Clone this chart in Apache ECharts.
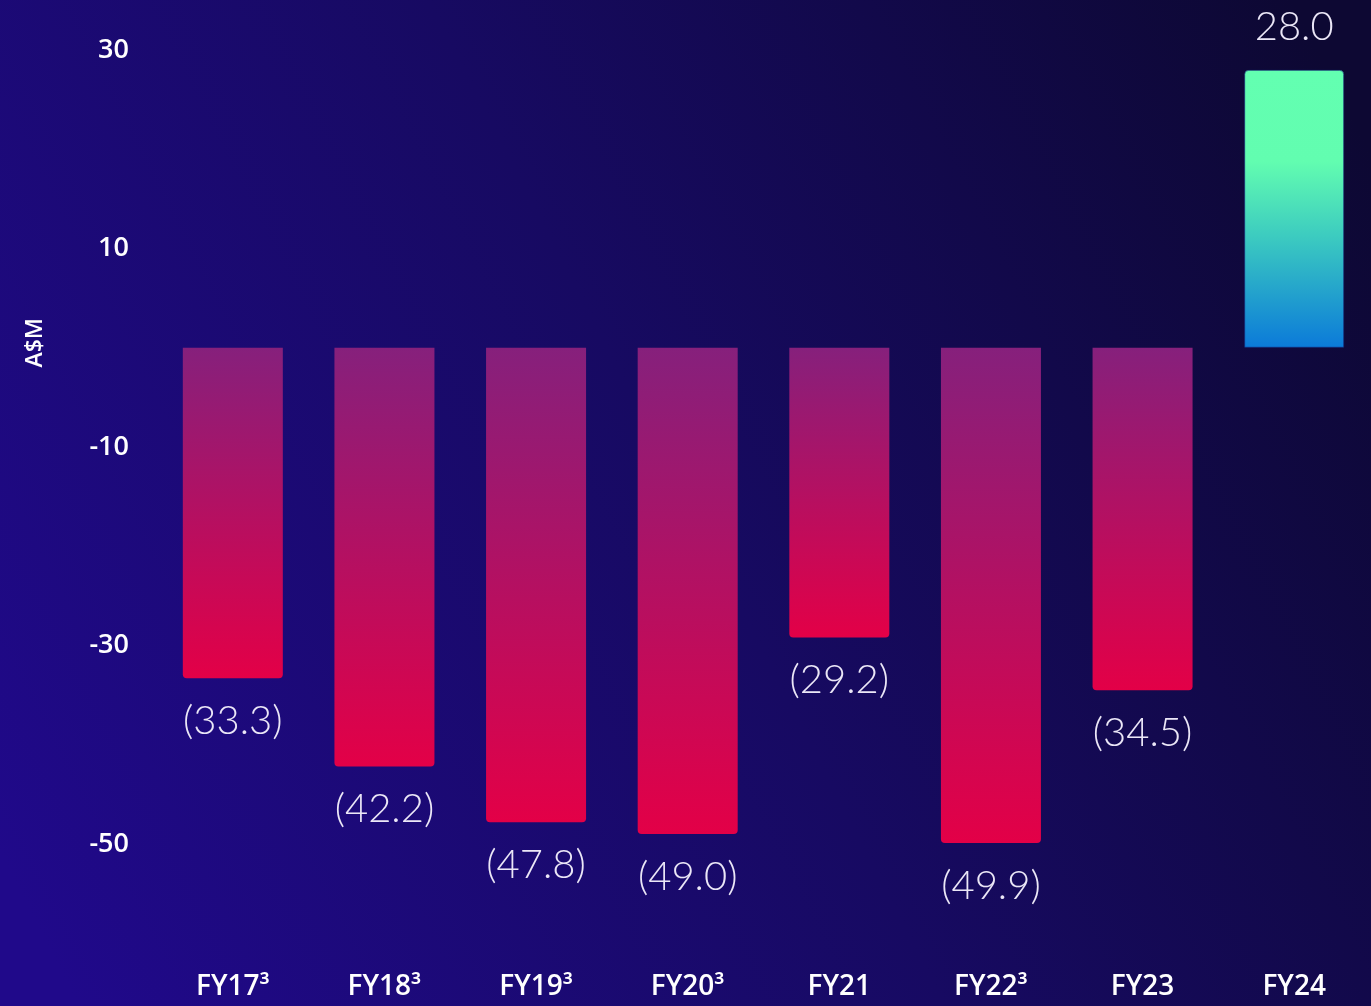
<!DOCTYPE html>
<html>
<head>
<meta charset="utf-8">
<script src="https://cdn.jsdelivr.net/npm/echarts@6/dist/echarts.min.js"></script>
<style>
  html, body { margin: 0; padding: 0; width: 100%; height: 100%; }
  #chart { width: 1371px; height: 1006px; }
</style>
</head>
<body>
<div id="chart"></div>
<script>
// Annual result, A$M (negative values shown in brackets)
const categories = ['FY17³', 'FY18³', 'FY19³', 'FY20³', 'FY21', 'FY22³', 'FY23', 'FY24'];
const values = [-33.3, -42.2, -47.8, -49.0, -29.2, -49.9, -34.5, 28.0];
const yTickLabels = [30, 10, -10, -30, -50];
const unitLabel = 'A$M';

const boldFont = 'Open Sans, Noto Sans, sans-serif';

const lossFill = new echarts.graphic.LinearGradient(0, 0, 0, 1, [
  { offset: 0, color: '#86207c' },
  { offset: 1, color: '#e30047' }
]);
const gainFill = new echarts.graphic.LinearGradient(0, 0, 0, 1, [
  { offset: 0, color: '#63ffb1' },
  { offset: 0.33, color: '#62fdb0' },
  { offset: 0.6, color: '#3ccbc0' },
  { offset: 1, color: '#0b7ad9' }
]);

const barData = values.map(v => ({
  value: v,
  itemStyle: v >= 0
    ? { color: gainFill, borderRadius: [4, 4, 0, 0], borderColor: 'rgba(20,40,120,0.6)', borderWidth: 1 }
    : { color: lossFill, borderRadius: [0, 0, 4, 4] },
  label: { position: v >= 0 ? 'top' : 'bottom' }
}));

const chart = echarts.init(document.getElementById('chart'), null, { renderer: 'canvas' });

chart.setOption({
  backgroundColor: new echarts.graphic.LinearGradient(0, 0.85, 1, 0.15, [
    { offset: 0, color: '#20098a' },
    { offset: 0.5, color: '#170a62' },
    { offset: 1, color: '#0d0833' }
  ]),
  animation: false,
  grid: { left: 157, right: 1, top: 50, bottom: 162, containLabel: false },
  // unit caption, centred on the zero line beside the value axis
  graphic: [{
    type: 'text',
    left: 24,
    top: 318,
    rotation: Math.PI / 2,
    style: {
      text: unitLabel,
      fill: '#ffffff',
      font: '600 23px ' + boldFont
    }
  }],
  xAxis: {
    type: 'category',
    data: categories,
    position: 'bottom',
    axisLine: { show: false },
    axisTick: { show: false },
    axisLabel: {
      color: '#ffffff',
      fontFamily: boldFont,
      fontWeight: 600,
      fontSize: 28,
      margin: 129
    }
  },
  yAxis: {
    type: 'value',
    min: -50,
    max: 30,
    interval: 10,
    splitLine: { show: false },
    axisLine: { show: false },
    axisTick: { show: false },
    axisLabel: {
      color: '#ffffff',
      fontFamily: boldFont,
      fontWeight: 600,
      fontSize: 27,
      margin: 28,
      formatter: v => (yTickLabels.includes(v) ? String(v) : '')
    }
  },
  series: [{
    type: 'bar',
    data: barData,
    barWidth: 100,
    label: {
      show: true,
      distance: 23,
      color: '#ebe7f7',
      fontFamily: "'Lato Light', Lato, 'Open Sans', sans-serif",
      fontWeight: 300,
      fontSize: 40,
      formatter: p => p.value < 0
        ? '(' + Math.abs(p.value).toFixed(1) + ')'
        : p.value.toFixed(1)
    }
  }]
});
</script>
</body>
</html>
